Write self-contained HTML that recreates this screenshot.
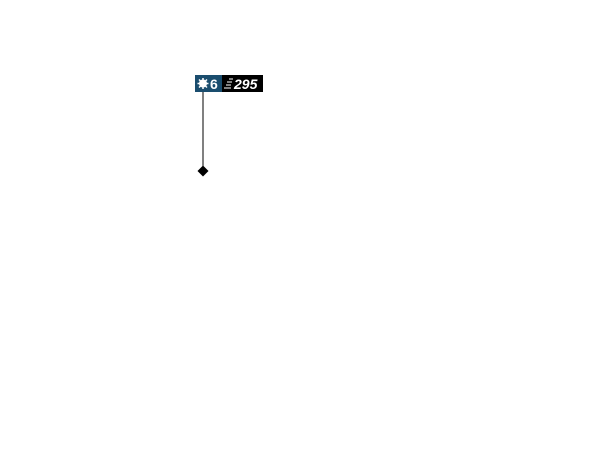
<!DOCTYPE html>
<html><head><style>
body{margin:0;width:600px;height:468px;background:#fff;position:relative;overflow:hidden;font-family:"Liberation Sans",sans-serif}
.b{position:absolute;top:75px;height:17px}
</style></head><body>
<div class="b" style="left:195px;width:27px;background:#1a4d6e"></div>
<div class="b" style="left:222px;width:41px;background:#000"></div>
<svg width="600" height="468" style="position:absolute;left:0;top:0">
<circle cx="203" cy="83.5" r="4" fill="#fff"/>
<g stroke="#fff" stroke-width="1.5">
<line x1="197.5" y1="83.5" x2="208.5" y2="83.5"/><line x1="203" y1="78" x2="203" y2="89"/>
<line x1="199" y1="79.5" x2="207" y2="87.5"/><line x1="207" y1="79.5" x2="199" y2="87.5"/>
</g>
<text x="210" y="89" fill="#fff" font-size="14" font-weight="bold" font-family="Liberation Sans">6</text>
<g stroke="#fff" stroke-width="1">
<line x1="229" y1="79" x2="233" y2="79"/><line x1="227" y1="82" x2="232" y2="82"/>
<line x1="226" y1="85" x2="231" y2="85"/><line x1="224" y1="88" x2="231" y2="88"/>
</g>
<text x="234" y="89" fill="#fff" font-size="14" font-weight="bold" font-style="italic" font-family="Liberation Sans">295</text>
<line x1="203" y1="92" x2="203" y2="171" stroke="#000" stroke-width="1"/>
<polygon points="203,165.5 208.5,171 203,176.5 197.5,171" fill="#000"/>
</svg>
</body></html>
